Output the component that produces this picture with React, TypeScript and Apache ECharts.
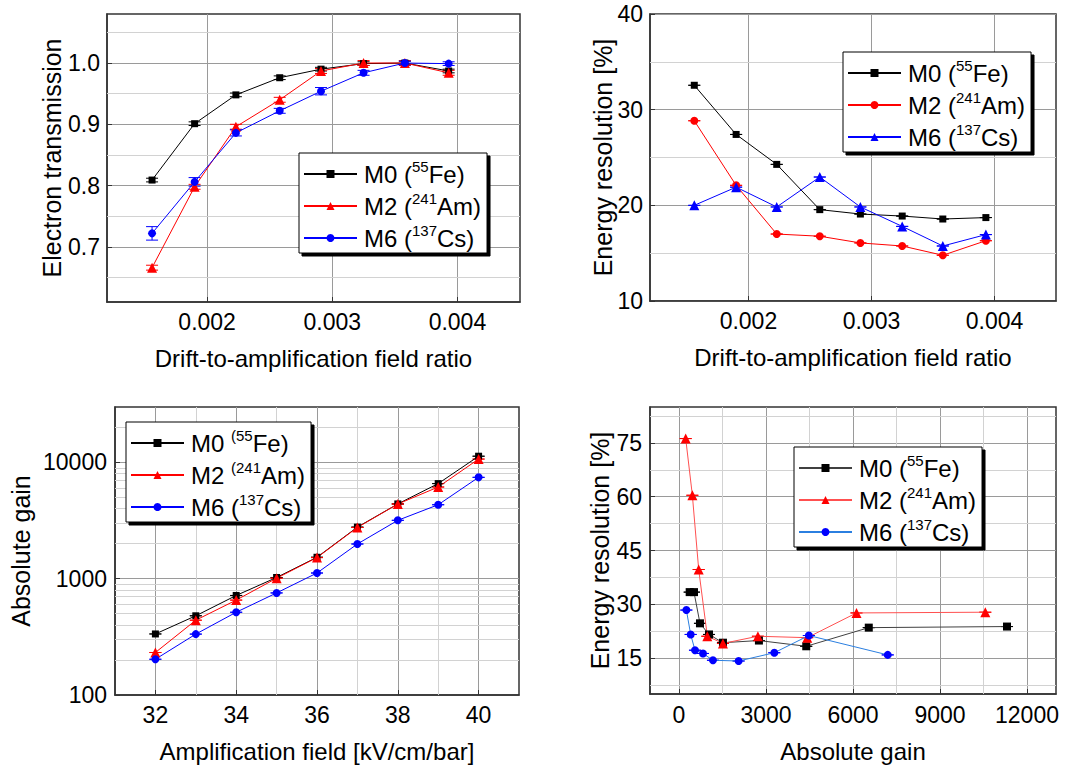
import React, { useEffect, useRef } from "react";
import * as echarts from "echarts";

const FONT = "'Liberation Sans', Arial, Helvetica, sans-serif";

// ---------- Panel 1: electron transmission vs drift/amplification ratio
const ratio = [0.00156, 0.0019, 0.00223, 0.00258, 0.00291, 0.00325, 0.00358, 0.00393];
const transM0 = [0.809, 0.901, 0.948, 0.976, 0.99, 0.999, 1.0, 0.987];
const transM2 = [0.666, 0.798, 0.896, 0.94, 0.987, 1.0, 1.0, 0.984];
const transM6 = [0.722, 0.806, 0.886, 0.922, 0.954, 0.984, 1.0, 0.999];
const transErrM0 = [0.003, 0.003, 0.003, 0.003, 0.003, 0.003, 0.003, 0.003];
const transErrM2 = [0.004, 0.004, 0.004, 0.004, 0.004, 0.004, 0.004, 0.004];
const transErrM6 = [0.011, 0.007, 0.005, 0.004, 0.006, 0.004, 0.003, 0.003];
const ratioTicks = [0.002, 0.003, 0.004];
const ratioMinor = [0.0015, 0.0025, 0.0035];
const transTicks = [0.7, 0.8, 0.9, 1.0];
const transMinor = [0.65, 0.75, 0.85, 0.95, 1.05];

// ---------- Panel 2: energy resolution vs ratio
const resM0 = [32.55, 27.41, 24.28, 19.55, 19.09, 18.88, 18.57, 18.72];
const resM2 = [28.84, 22.09, 17.0, 16.77, 16.07, 15.75, 14.78, 16.3];
const resM6 = [20.0, 21.9, 19.83, 22.96, 19.83, 17.8, 15.75, 16.94];
const resTicks = [10, 20, 30, 40];
const resMinor = [15, 25, 35];

// ---------- Panel 3: absolute gain vs amplification field
const field = [32, 33, 34, 35, 36, 37, 38, 39, 40];
const gainM0 = [335, 480, 718, 1025, 1530, 2780, 4400, 6580, 11320];
const gainM2 = [232, 440, 655, 1010, 1520, 2760, 4390, 6150, 10700];
const gainM6 = [203, 334, 515, 755, 1120, 1990, 3180, 4330, 7450];
const fieldTicks = [32, 34, 36, 38, 40];
const fieldMinor = [33, 35, 37, 39];
const gainMinor = [200, 300, 400, 500, 600, 700, 800, 900, 2000, 3000, 4000, 5000, 6000, 7000, 8000, 9000, 20000];

// ---------- Panel 4: energy resolution vs absolute gain
const egGainM0 = [368, 517, 723, 1034, 1516, 2756, 4388, 6544, 11311];
const egResM0 = [33.4, 33.4, 24.7, 21.6, 19.3, 19.9, 18.3, 23.5, 23.8];
const egGainM2 = [231, 461, 679, 977, 1516, 2721, 4422, 6120, 10563];
const egResM2 = [76.2, 60.4, 39.7, 21.1, 19.1, 21.1, 20.7, 27.6, 27.8];
const egGainM6 = [254, 403, 551, 827, 1171, 2056, 3286, 4478, 7198];
const egResM6 = [28.4, 21.6, 17.2, 16.3, 14.4, 14.2, 16.5, 21.3, 15.9];
const egGainTicks = [0, 3000, 6000, 9000, 12000];
const egGainMinor = [1500, 4500, 7500, 10500];
const egResTicks = [15, 30, 45, 60, 75];
const egResMinor = [7.5, 22.5, 37.5, 52.5, 67.5, 82.5];

const zeros9 = [0, 0, 0, 0, 0, 0, 0, 0, 0];
const zeros8 = [0, 0, 0, 0, 0, 0, 0, 0];

const NAME0 = "M0 (55Fe)";
const NAME2 = "M2 (241Am)";
const NAME6 = "M6 (137Cs)";

const legendStd: Record<string, string> = {
  [NAME0]: "{b|M0 (}{s|55}{a|Fe)}",
  [NAME2]: "{b|M2 (}{s|241}{a|Am)}",
  [NAME6]: "{b|M6 (}{s|137}{a|Cs)}",
};
const legendGain: Record<string, string> = {
  [NAME0]: "{b|M0 }{s|(55}{a|Fe)}",
  [NAME2]: "{b|M2 }{s|(241}{a|Am)}",
  [NAME6]: "{b|M6 (}{s|137}{a|Cs)}",
};

const pairs = (xs: number[], ys: number[]) => xs.map((v, i) => [v, ys[i]]);
const triples = (xs: number[], ys: number[], es: number[]) => xs.map((v, i) => [v, ys[i], es[i]]);

function lineSeries(name: string, data: number[][], symbol: string, size: number, color: string, lineColor?: string) {
  return {
    type: "line",
    name,
    data,
    symbol,
    symbolSize: size,
    itemStyle: { color },
    lineStyle: { color: lineColor || color, width: 1 },
    z: 3,
    silent: true,
  };
}

function errSeries(data: number[][], color: string) {
  return {
    type: "custom",
    silent: true,
    z: 3,
    data,
    encode: { x: 0, y: 1 },
    renderItem: (params: any, api: any) => {
      const xv = api.value(0);
      const yv = api.value(1);
      const ev = api.value(2);
      const top = api.coord([xv, yv + ev]);
      const bot = api.coord([xv, yv - ev]);
      const hw = 6;
      const style = { stroke: color, lineWidth: 1 };
      return {
        type: "group",
        children: [
          { type: "line", shape: { x1: top[0], y1: top[1], x2: bot[0], y2: bot[1] }, style },
          { type: "line", shape: { x1: top[0] - hw, y1: top[1], x2: top[0] + hw, y2: top[1] }, style },
          { type: "line", shape: { x1: bot[0] - hw, y1: bot[1], x2: bot[0] + hw, y2: bot[1] }, style },
        ],
      };
    },
  };
}

const axisDark = { color: "#333", width: 1.5 };
const majorGrid = { color: "#9a9a9a", width: 1 };
const minorGrid = { color: "#d2d2d2", width: 1, type: "solid" };

function minorGridSeries(xs: number[], ys: number[]) {
  return {
    type: "line",
    name: "minor-grid",
    data: [],
    silent: true,
    z: 1,
    markLine: {
      z: 1,
      silent: true,
      symbol: ["none", "none"],
      label: { show: false },
      lineStyle: minorGrid,
      emphasis: { disabled: true },
      animation: false,
      data: [...xs.map((v) => ({ xAxis: v })), ...ys.map((v) => ({ yAxis: v }))],
    },
  };
}

function mainAxis(opts: any) {
  const { type = "value", min, max, ticks, name, nameGap, nameSize, formatter, position, margin, log } = opts;
  const ax: any = {
    type,
    min,
    max,
    position,
    name,
    nameLocation: "middle",
    nameGap,
    nameMoveOverlap: false,
    nameTextStyle: { fontSize: nameSize, color: "#000", fontFamily: FONT },
    axisLine: { show: true, onZero: false, lineStyle: axisDark },
    axisTick: { show: true, inside: true, length: 5, lineStyle: { color: "#333", width: 1 } },
    axisLabel: { fontSize: 23, color: "#000", fontFamily: FONT, margin, formatter },
    splitLine: { show: true, lineStyle: majorGrid },
  };
  if (log) {
    ax.logBase = 10;
    ax.axisLabel.showMaxLabel = false;
    ax.splitLine.showMinLine = false;
    ax.splitLine.showMaxLine = false;
  } else {
    ax.axisTick.customValues = ticks;
    ax.axisLabel.customValues = ticks;
  }
  return ax;
}

function legend(left: number, top: number, map: Record<string, string>) {
  return {
    orient: "vertical",
    left,
    top,
    z: 10,
    itemWidth: 53,
    itemHeight: 10,
    itemGap: 5,
    padding: [6, 6, 3, 4],
    backgroundColor: "#fff",
    borderColor: "#000",
    borderWidth: 1,
    borderRadius: 0,
    shadowColor: "#000",
    shadowBlur: 0,
    shadowOffsetX: 3,
    shadowOffsetY: 3,
    selectedMode: false,
    data: [NAME0, NAME2, NAME6],
    formatter: (n: string) => map[n],
    textStyle: {
      color: "#000",
      fontFamily: FONT,
      rich: {
        a: { fontSize: 24, lineHeight: 30, fontFamily: FONT, color: "#000" },
        b: { fontSize: 24, lineHeight: 30, fontFamily: FONT, color: "#000", padding: [0, 0, 0, 2] },
        s: { fontSize: 15, lineHeight: 15, verticalAlign: "top", fontFamily: FONT, color: "#000" },
      },
    },
  };
}

function gridBox(left: number, top: number, width: number, height: number) {
  return { left, top, width, height, show: true, borderColor: "#333", borderWidth: 1.5, backgroundColor: "transparent" };
}

const option1 = {
  animation: false,
  textStyle: { fontFamily: FONT },
  grid: gridBox(107, 14, 413, 288),
  xAxis: mainAxis({ min: 0.0012, max: 0.0045, ticks: ratioTicks, name: "Drift-to-amplification field ratio", nameGap: 44, nameSize: 24, formatter: (v: number) => v.toFixed(3), position: "bottom", margin: 8 }),
  yAxis: mainAxis({ min: 0.61, max: 1.08, ticks: transTicks, name: "Electron transmission", nameGap: 43, nameSize: 25, formatter: (v: number) => v.toFixed(1), position: "left", margin: 7 }),
  legend: legend(299, 153, legendStd),
  series: [
    minorGridSeries(ratioMinor, transMinor),
    errSeries(triples(ratio, transM0, transErrM0), "#000"),
    errSeries(triples(ratio, transM2, transErrM2), "#ff0000"),
    errSeries(triples(ratio, transM6, transErrM6), "#0000ff"),
    lineSeries(NAME0, pairs(ratio, transM0), "rect", 7, "#000"),
    lineSeries(NAME2, pairs(ratio, transM2), "triangle", 10, "#ff0000"),
    lineSeries(NAME6, pairs(ratio, transM6), "circle", 8, "#0000ff"),
  ],
};

const option2 = {
  animation: false,
  textStyle: { fontFamily: FONT },
  grid: gridBox(107, 14, 406, 287),
  xAxis: mainAxis({ min: 0.0012, max: 0.0045, ticks: ratioTicks, name: "Drift-to-amplification field ratio", nameGap: 44, nameSize: 24, formatter: (v: number) => v.toFixed(3), position: "bottom", margin: 8 }),
  yAxis: mainAxis({ min: 10, max: 40, ticks: resTicks, name: "Energy resolution [%]", nameGap: 35, nameSize: 25, formatter: (v: number) => String(v), position: "left", margin: 7 }),
  legend: legend(300, 52, legendStd),
  series: [
    minorGridSeries(ratioMinor, resMinor),
    errSeries(triples(ratio, resM0, zeros8), "#000"),
    errSeries(triples(ratio, resM2, zeros8), "#ff0000"),
    errSeries(triples(ratio, resM6, zeros8), "#0000ff"),
    lineSeries(NAME0, pairs(ratio, resM0), "rect", 7, "#000"),
    lineSeries(NAME2, pairs(ratio, resM2), "circle", 8, "#ff0000"),
    lineSeries(NAME6, pairs(ratio, resM6), "triangle", 10, "#0000ff"),
  ],
};

const option3 = {
  animation: false,
  textStyle: { fontFamily: FONT },
  grid: gridBox(110, 22, 409, 288),
  xAxis: mainAxis({ min: 31, max: 41, ticks: fieldTicks, name: "Amplification field [kV/cm/bar]", nameGap: 44, nameSize: 24, formatter: (v: number) => String(v), position: "bottom", margin: 8 }),
  yAxis: mainAxis({ type: "log", log: true, min: 100, max: 30000, name: "Absolute gain", nameGap: 82, nameSize: 25, formatter: (v: number) => String(Math.round(v)), position: "left", margin: 8 }),
  legend: legend(126, 37, legendGain),
  series: [
    minorGridSeries(fieldMinor, gainMinor),
    errSeries(triples(field, gainM0, zeros9), "#000"),
    errSeries(triples(field, gainM2, zeros9), "#ff0000"),
    errSeries(triples(field, gainM6, zeros9), "#0000ff"),
    lineSeries(NAME0, pairs(field, gainM0), "rect", 7, "#000"),
    lineSeries(NAME2, pairs(field, gainM2), "triangle", 10, "#ff0000"),
    lineSeries(NAME6, pairs(field, gainM6), "circle", 8, "#0000ff"),
  ],
};

const option4 = {
  animation: false,
  textStyle: { fontFamily: FONT },
  grid: gridBox(107, 22, 406, 287),
  xAxis: mainAxis({ min: -1000, max: 13000, ticks: egGainTicks, name: "Absolute gain", nameGap: 45, nameSize: 24, formatter: (v: number) => String(v), position: "bottom", margin: 9 }),
  yAxis: mainAxis({ min: 5, max: 85, ticks: egResTicks, name: "Energy resolution [%]", nameGap: 38, nameSize: 25, formatter: (v: number) => String(v), position: "left", margin: 8 }),
  legend: legend(251, 62, legendStd),
  series: [
    minorGridSeries(egGainMinor, egResMinor),
    errSeries(triples(egGainM0, egResM0, zeros9), "#000"),
    errSeries(triples(egGainM2, egResM2, zeros9), "#ff0000"),
    errSeries(triples(egGainM6, egResM6, zeros9), "#0000ff"),
    lineSeries(NAME0, pairs(egGainM0, egResM0), "rect", 8, "#000", "#404040"),
    lineSeries(NAME2, pairs(egGainM2, egResM2), "triangle", 10, "#ff0000", "#ff5050"),
    lineSeries(NAME6, pairs(egGainM6, egResM6), "circle", 8, "#0000ff", "#2b7fe0"),
  ],
};

function Chart({ option, left, top, width, height }: { option: any; left: number; top: number; width: number; height: number }) {
  const ref = useRef<HTMLDivElement>(null);
  useEffect(() => {
    if (!ref.current) return;
    const chart = echarts.init(ref.current, null, { renderer: "svg" });
    chart.setOption(option);
    return () => chart.dispose();
  }, [option]);
  return <div ref={ref} style={{ position: "absolute", left, top, width, height }} />;
}

export default function App() {
  return (
    <div style={{ position: "absolute", left: 0, top: 0, width: 1086, height: 769, background: "#fff", overflow: "hidden" }}>
      <Chart option={option1} left={0} top={0} width={543} height={385} />
      <Chart option={option2} left={543} top={0} width={543} height={385} />
      <Chart option={option3} left={0} top={385} width={543} height={384} />
      <Chart option={option4} left={543} top={385} width={543} height={384} />
    </div>
  );
}
